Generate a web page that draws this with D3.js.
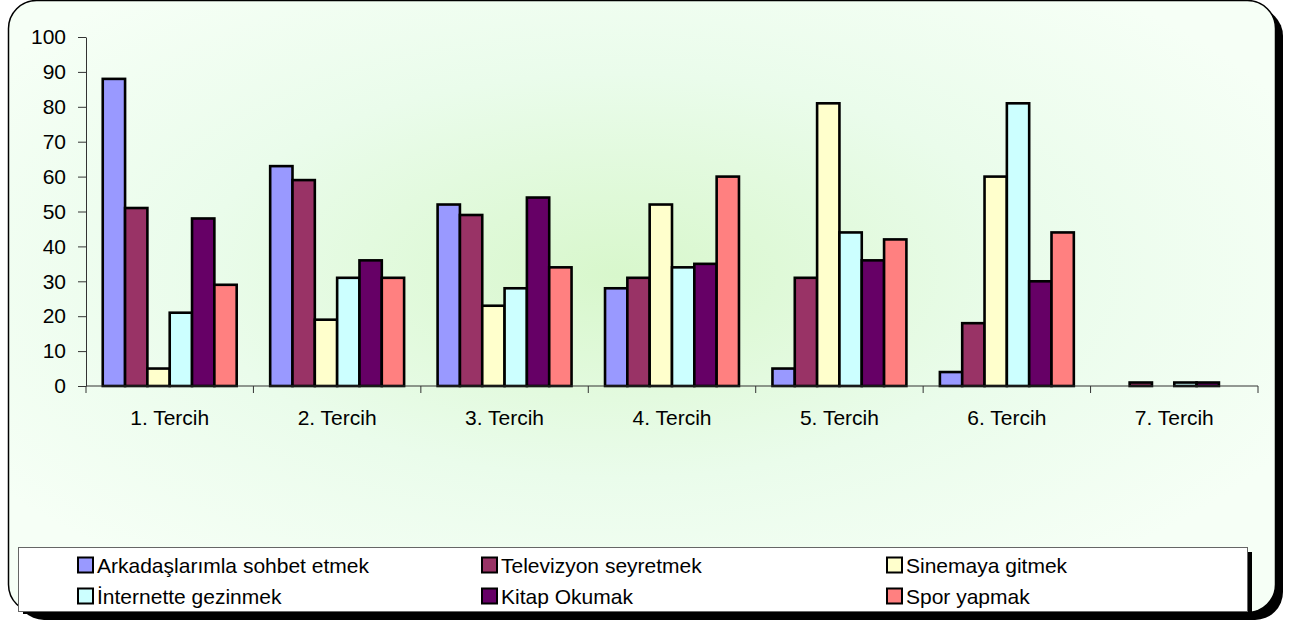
<!DOCTYPE html>
<html>
<head>
<meta charset="utf-8">
<script src="https://cdn.jsdelivr.net/npm/d3@7"></script>
<style>
  html, body { margin: 0; padding: 0; background: #fff; }
  svg { display: block; }
</style>
</head>
<body>
<div id="chart"></div>
<script>
// categories + series
const CATEGORIES = ['1. Tercih', '2. Tercih', '3. Tercih', '4. Tercih', '5. Tercih', '6. Tercih', '7. Tercih'];
const SERIES_NAMES = ['Arkadaşlarımla sohbet etmek', 'Televizyon seyretmek', 'Sinemaya gitmek',
                      'İnternette gezinmek', 'Kitap Okumak', 'Spor yapmak'];
const SERIES_COLORS = ['#9999FF', '#993366', '#FFFFCC', '#CCFFFF', '#660066', '#FF8080'];
const ARKADAS   = [88, 63, 52, 28,  5,  4, 0];
const TELEVIZYON = [51, 59, 49, 31, 31, 18, 1];
const SINEMA    = [ 5, 19, 23, 52, 81, 60, 0];
const INTERNET  = [21, 31, 28, 34, 44, 81, 1];
const KITAP     = [48, 36, 54, 35, 36, 30, 1];
const SPOR      = [29, 31, 34, 60, 42, 44, 0];
const Y_TICKS = [0, 10, 20, 30, 40, 50, 60, 70, 80, 90, 100];

const SERIES = [ARKADAS, TELEVIZYON, SINEMA, INTERNET, KITAP, SPOR];

const W = 1290, H = 625;
const FONT = 'Liberation Sans, Arial, sans-serif';
const FS = 21;
const m = { l: 86, r: 1258, t: 37, b: 386 };

const svg = d3.select('#chart').append('svg')
  .attr('width', W).attr('height', H)
  .attr('viewBox', `0 0 ${W} ${H}`);

// soft green radial background
const defs = svg.append('defs');
const grad = defs.append('radialGradient').attr('id', 'bg')
  .attr('cx', '48%').attr('cy', '45%').attr('r', '60%');
grad.append('stop').attr('offset', '0%').attr('stop-color', '#d8f7cc');
grad.append('stop').attr('offset', '55%').attr('stop-color', '#eafceb');
grad.append('stop').attr('offset', '100%').attr('stop-color', '#f6fff6');

// frame: shadow first, then the rounded box
svg.append('rect')
  .attr('x', 16).attr('y', 8).attr('width', 1267).attr('height', 612)
  .attr('rx', 28).attr('fill', '#000');
svg.append('rect')
  .attr('x', 8.5).attr('y', 0.5).attr('width', 1267).attr('height', 612)
  .attr('rx', 28).attr('fill', 'url(#bg)')
  .attr('stroke', '#000').attr('stroke-width', 1.5);

// scales
const x0 = d3.scaleBand().domain(CATEGORIES).range([m.l, m.r]).paddingInner(0).paddingOuter(0);
const x1 = d3.scaleBand().domain(d3.range(SERIES.length))
  .range([0, x0.bandwidth()]).paddingOuter(0.75).paddingInner(0);
const y = d3.scaleLinear().domain([0, 100]).range([m.b, m.t]);

// bars
const gBars = svg.append('g');
SERIES.forEach((vals, si) => {
  gBars.selectAll(null).data(vals.map((v, ci) => ({ v, c: CATEGORIES[ci] })))
    .join('rect')
    .filter(d => d.v > 0)
    .attr('x', d => x0(d.c) + x1(si))
    .attr('y', d => y(d.v))
    .attr('width', x1.bandwidth())
    .attr('height', d => y(0) - y(d.v))
    .attr('fill', SERIES_COLORS[si])
    .attr('stroke', '#000').attr('stroke-width', 2.6);
});

// y axis
const yAxis = svg.append('g').attr('transform', `translate(${m.l},0)`)
  .call(d3.axisLeft(y).tickValues(Y_TICKS).tickSize(8).tickPadding(12).tickSizeOuter(0));
yAxis.selectAll('text').attr('font-family', FONT).attr('font-size', FS).attr('fill', '#000');
yAxis.selectAll('line, path').attr('stroke', '#333');

// x axis: ticks on category boundaries
const xAxis = svg.append('g').attr('transform', `translate(0,${m.b})`);
xAxis.append('line').attr('x1', m.l).attr('x2', m.r).attr('stroke', '#333');
xAxis.selectAll('line.tk').data(CATEGORIES.concat(['end'])).join('line')
  .attr('class', 'tk')
  .attr('x1', (d, i) => m.l + i * x0.bandwidth())
  .attr('x2', (d, i) => m.l + i * x0.bandwidth())
  .attr('y1', 0).attr('y2', 7).attr('stroke', '#333');
xAxis.selectAll('text').data(CATEGORIES).join('text')
  .attr('x', d => x0(d) + x0.bandwidth() / 2)
  .attr('y', 39)
  .attr('text-anchor', 'middle')
  .attr('font-family', FONT).attr('font-size', FS).attr('fill', '#000')
  .text(d => d);

// legend box with its own shadow
const lg = svg.append('g');
lg.append('rect').attr('x', 23).attr('y', 552).attr('width', 1229).attr('height', 62).attr('fill', '#000');
lg.append('rect').attr('x', 18.5).attr('y', 547.5).attr('width', 1229).attr('height', 64)
  .attr('fill', '#fff').attr('stroke', '#666').attr('stroke-width', 1);

const LEG_COLS = [78, 482, 887];
const LEG_ROWS = [565, 596];
SERIES_NAMES.forEach((name, i) => {
  const cx = LEG_COLS[i % 3], cy = LEG_ROWS[Math.floor(i / 3)];
  lg.append('rect').attr('x', cx).attr('y', cy - 7.5).attr('width', 15).attr('height', 15)
    .attr('fill', SERIES_COLORS[i]).attr('stroke', '#000').attr('stroke-width', 2);
  lg.append('text').attr('x', cx + 19).attr('y', cy + 7.5)
    .attr('font-family', FONT).attr('font-size', FS).attr('fill', '#000')
    .text(name);
});
</script>
</body>
</html>
